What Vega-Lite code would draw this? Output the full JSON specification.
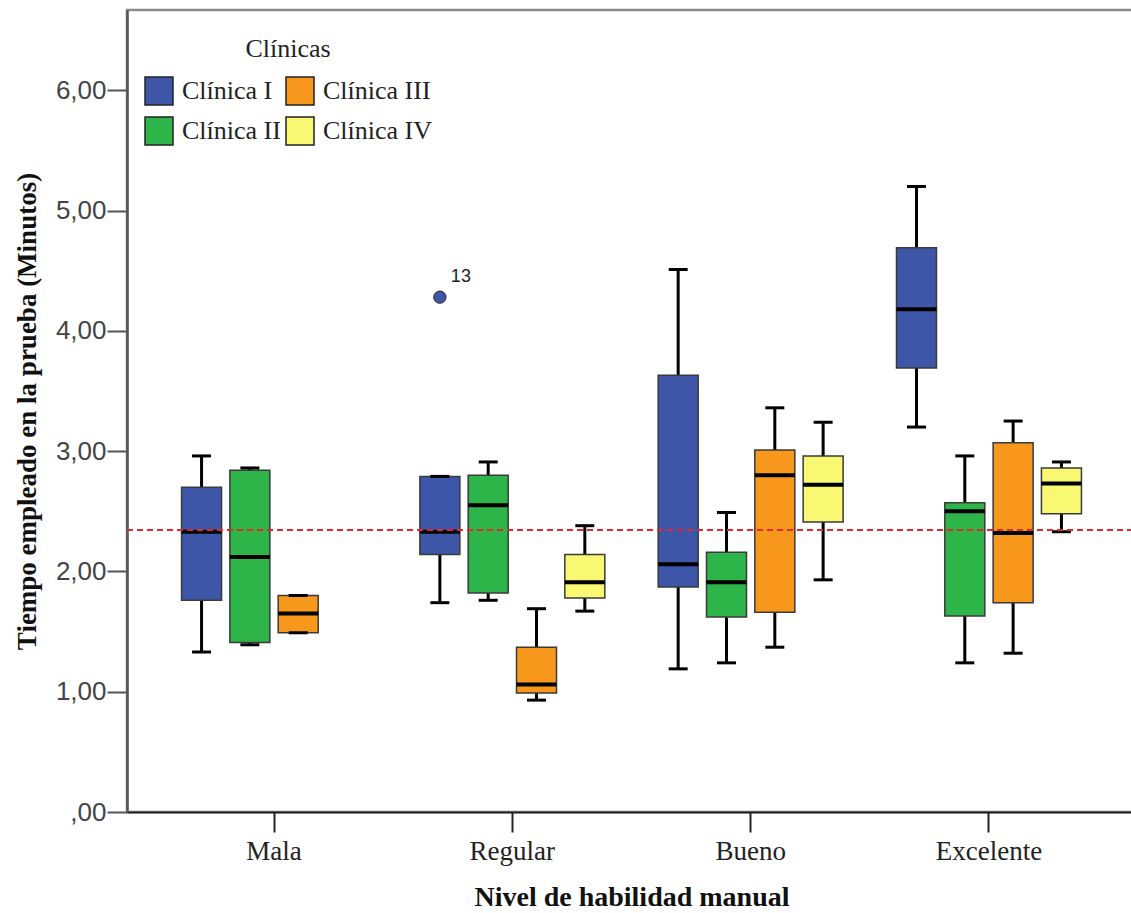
{
  "$schema": "https://vega.github.io/schema/vega-lite/v6.json",
  "autosize": {"type": "none"},
  "padding": {"left": 127, "top": 10, "right": 0, "bottom": 101},
  "width": 1009,
  "height": 802,
  "background": "white",
  "config": {
    "view": {"stroke": "#8a8a8a", "strokeWidth": 2.5}
  },
  "datasets": {
    "boxes": [
      {"nivel": "Mala", "clinica": "Clínica I", "lower": 1.33, "q1": 1.76, "median": 2.33, "q3": 2.70, "upper": 2.96},
      {"nivel": "Mala", "clinica": "Clínica II", "lower": 1.39, "q1": 1.41, "median": 2.12, "q3": 2.84, "upper": 2.86},
      {"nivel": "Mala", "clinica": "Clínica III", "lower": 1.49, "q1": 1.49, "median": 1.65, "q3": 1.80, "upper": 1.80},
      {"nivel": "Regular", "clinica": "Clínica I", "lower": 1.74, "q1": 2.14, "median": 2.33, "q3": 2.79, "upper": 2.79},
      {"nivel": "Regular", "clinica": "Clínica II", "lower": 1.76, "q1": 1.82, "median": 2.55, "q3": 2.80, "upper": 2.91},
      {"nivel": "Regular", "clinica": "Clínica III", "lower": 0.93, "q1": 0.99, "median": 1.06, "q3": 1.37, "upper": 1.69},
      {"nivel": "Regular", "clinica": "Clínica IV", "lower": 1.67, "q1": 1.78, "median": 1.91, "q3": 2.14, "upper": 2.38},
      {"nivel": "Bueno", "clinica": "Clínica I", "lower": 1.19, "q1": 1.87, "median": 2.06, "q3": 3.63, "upper": 4.51},
      {"nivel": "Bueno", "clinica": "Clínica II", "lower": 1.24, "q1": 1.62, "median": 1.91, "q3": 2.16, "upper": 2.49},
      {"nivel": "Bueno", "clinica": "Clínica III", "lower": 1.37, "q1": 1.66, "median": 2.80, "q3": 3.01, "upper": 3.36},
      {"nivel": "Bueno", "clinica": "Clínica IV", "lower": 1.93, "q1": 2.41, "median": 2.72, "q3": 2.96, "upper": 3.24},
      {"nivel": "Excelente", "clinica": "Clínica I", "lower": 3.20, "q1": 3.69, "median": 4.18, "q3": 4.69, "upper": 5.20},
      {"nivel": "Excelente", "clinica": "Clínica II", "lower": 1.24, "q1": 1.63, "median": 2.50, "q3": 2.57, "upper": 2.96},
      {"nivel": "Excelente", "clinica": "Clínica III", "lower": 1.32, "q1": 1.74, "median": 2.32, "q3": 3.07, "upper": 3.25},
      {"nivel": "Excelente", "clinica": "Clínica IV", "lower": 2.33, "q1": 2.48, "median": 2.73, "q3": 2.86, "upper": 2.91}
    ],
    "outliers": [
      {"nivel": "Regular", "clinica": "Clínica I", "valor": 4.28, "caso": "13"}
    ],
    "referencia": [
      {"valor": 2.344}
    ]
  },
  "encoding": {
    "x": {
      "field": "nivel", "type": "nominal",
      "sort": ["Mala", "Regular", "Bueno", "Excelente"],
      "scale": {"domain": ["Mala", "Regular", "Bueno", "Excelente"], "paddingInner": 0, "paddingOuter": 0.117},
      "axis": {
        "title": "Nivel de habilidad manual",
        "titleFont": "Liberation Serif", "titleFontSize": 28, "titleFontWeight": "bold", "titleColor": "#111",
        "titlePadding": 19,
        "labelFont": "Liberation Serif", "labelFontSize": 27, "labelColor": "#222", "labelAngle": 0,
        "labelPadding": 6,
        "tickSize": 20, "tickWidth": 2, "tickColor": "#222",
        "domainColor": "#222", "domainWidth": 2
      }
    },
    "xOffset": {
      "field": "clinica", "type": "nominal",
      "scale": {"domain": ["Clínica I", "Clínica II", "Clínica III", "Clínica IV"], "paddingInner": 0, "paddingOuter": 0.466}
    }
  },
  "layer": [
    {
      "data": {"name": "boxes"},
      "mark": {"type": "rule", "color": "#000", "strokeWidth": 3},
      "encoding": {
        "y": {
          "field": "lower", "type": "quantitative",
          "scale": {"domain": [0, 6.667], "nice": false, "zero": true},
          "axis": {
            "title": "Tiempo empleado en la prueba (Minutos)",
            "titleFont": "Liberation Serif", "titleFontSize": 27, "titleFontWeight": "bold", "titleColor": "#111",
            "titlePadding": 14,
            "values": [0, 1, 2, 3, 4, 5, 6],
            "labelExpr": "datum.value == 0 ? ',00' : replace(format(datum.value, '.2f'), '.', ',')",
            "labelFont": "Liberation Sans", "labelFontSize": 26, "labelColor": "#444",
            "labelPadding": 1,
            "tickSize": 20, "tickWidth": 2, "tickColor": "#555",
            "domainColor": "#555", "domainWidth": 2.5,
            "grid": false
          }
        },
        "y2": {"field": "upper"}
      }
    },
    {
      "data": {"name": "boxes"},
      "mark": {"type": "bar", "size": 40, "stroke": "#3a3a3a", "strokeWidth": 1.5},
      "encoding": {
        "y": {"field": "q1", "type": "quantitative"},
        "y2": {"field": "q3"},
        "color": {
          "field": "clinica", "type": "nominal",
          "scale": {
            "domain": ["Clínica I", "Clínica II", "Clínica III", "Clínica IV"],
            "range": ["#3D56A8", "#2EB54A", "#F7981D", "#F9F872"]
          },
          "legend": {
            "title": "Clínicas",
            "orient": "none", "legendX": 17, "legendY": 26,
            "columns": 2,
            "symbolType": "square", "symbolSize": 784,
            "symbolStrokeColor": "#222", "symbolStrokeWidth": 1.5,
            "labelFont": "Liberation Serif", "labelFontSize": 26, "labelColor": "#222",
            "labelOffset": 8,
            "titleFont": "Liberation Serif", "titleFontSize": 26, "titleFontWeight": "normal", "titleColor": "#222",
            "titleAnchor": "middle", "titlePadding": 14,
            "rowPadding": 6, "columnPadding": 2, "padding": 0
          }
        }
      }
    },
    {
      "data": {"name": "boxes"},
      "mark": {"type": "tick", "color": "#000", "opacity": 1, "size": 40, "thickness": 4, "orient": "horizontal"},
      "encoding": {"y": {"field": "median", "type": "quantitative"}}
    },
    {
      "data": {"name": "boxes"},
      "mark": {"type": "tick", "color": "#000", "opacity": 1, "size": 19, "thickness": 3, "orient": "horizontal"},
      "encoding": {"y": {"field": "lower", "type": "quantitative"}}
    },
    {
      "data": {"name": "boxes"},
      "mark": {"type": "tick", "color": "#000", "opacity": 1, "size": 19, "thickness": 3, "orient": "horizontal"},
      "encoding": {"y": {"field": "upper", "type": "quantitative"}}
    },
    {
      "data": {"name": "outliers"},
      "mark": {"type": "point", "shape": "circle", "size": 150, "filled": true, "fill": "#3D56A8", "stroke": "#222", "strokeWidth": 1, "opacity": 1},
      "encoding": {"y": {"field": "valor", "type": "quantitative"}}
    },
    {
      "data": {"name": "outliers"},
      "mark": {"type": "text", "align": "left", "baseline": "middle", "dx": 11, "dy": -20, "font": "Liberation Sans", "fontSize": 18, "color": "#222"},
      "encoding": {
        "y": {"field": "valor", "type": "quantitative"},
        "text": {"field": "caso"}
      }
    },
    {
      "data": {"name": "referencia"},
      "mark": {"type": "rule", "color": "#E8262E", "strokeWidth": 2, "strokeDash": [6, 4]},
      "encoding": {
        "x": {"value": 0},
        "x2": {"value": 1009},
        "xOffset": null,
        "y": {"field": "valor", "type": "quantitative"}
      }
    }
  ]
}
